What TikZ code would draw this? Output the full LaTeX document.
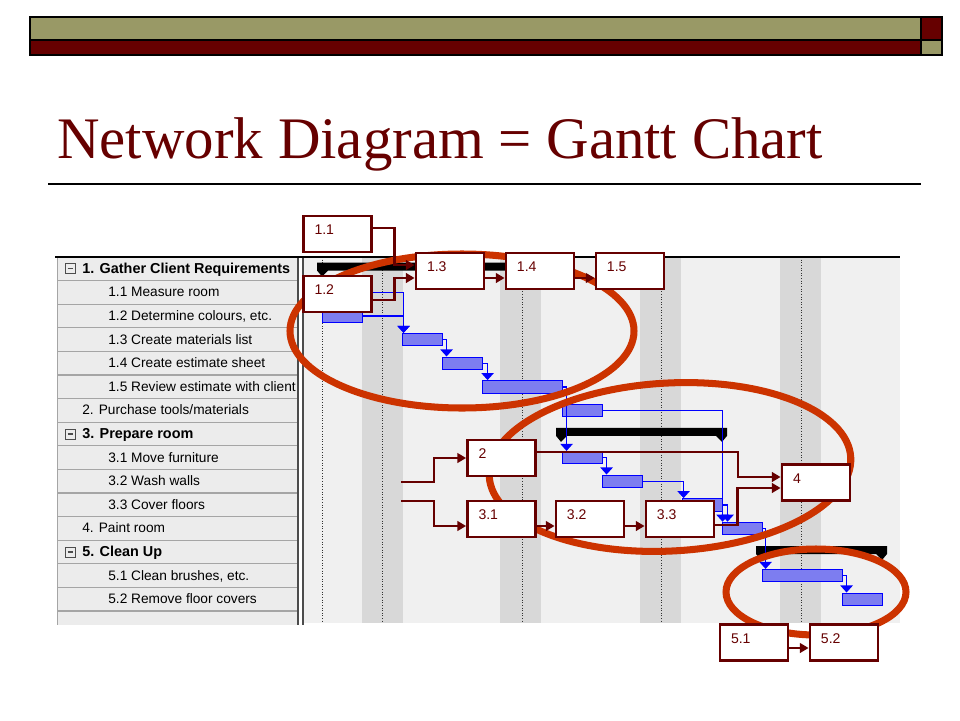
\documentclass[tikz,border=0pt]{standalone}
\usepackage{fontspec}
\setmainfont{Liberation Serif}
\newfontfamily\ganttfont{Liberation Sans}
\usetikzlibrary{positioning}
\usetikzlibrary{shapes, arrows, arrows.meta, calc}

\definecolor{slidered}{RGB}{102,0,0}
\definecolor{slideolive}{RGB}{153,153,102}
\definecolor{ringred}{RGB}{204,51,0}
\definecolor{barblue}{RGB}{125,125,240}
\definecolor{chartgray}{RGB}{240,240,240}
\definecolor{stripegray}{RGB}{216,216,216}
\definecolor{rowgray}{RGB}{236,236,236}
\definecolor{gridgray}{RGB}{165,165,165}

% summary bar: start, end, middle of the row
\newcommand{\sumbar}[3]{\fill ({#1},{#3-6}) -- ({#2},{#3-6}) -- ({#2},{#3+2}) -- ({#2-5},{#3+8}) -- ({#2-11},{#3+2}) -- ({#1+11},{#3+2}) -- ({#1+5},{#3+8}) -- ({#1},{#3+2}) -- cycle;}

\begin{document}
\begin{tikzpicture}[x=0.02cm, y=-0.02cm, node distance=1.8cm, auto]
    \tikzstyle{box} = [rectangle, draw=slidered, line width=1.6pt, fill=white, minimum width=1.36cm, minimum height=0.72cm, inner sep=0pt, text width=0.92cm, align=left, text depth=0.16cm, text=slidered, font=\ganttfont\fontsize{8}{9}\selectfont]
    \tikzstyle{line} = [draw=slidered, line width=1.6pt, -{Triangle[length=5pt, width=5.5pt]}]
    \tikzstyle{bar} = [rectangle, draw=blue, fill=barblue, line width=0.5pt, minimum width=0.8cm, minimum height=0.25cm, inner sep=0pt]
    \tikzstyle{link} = [draw=blue, line width=0.8pt, -{Triangle[length=4pt, width=7pt]}]
    \tikzstyle{ring} = [draw=ringred, line width=4pt]
    \tikzstyle{task} = [anchor=base west, inner sep=0pt, font=\ganttfont\fontsize{7.8}{9}\selectfont]
    \tikzstyle{tasksub} = [task, xshift=1.02cm]
    \tikzstyle{taskplain} = [task, xshift=0.5cm]
    \tikzstyle{tasktop} = [task, xshift=0.5cm, font=\ganttfont\bfseries\fontsize{8.2}{9}\selectfont]
    \useasboundingbox (0,0) rectangle (960,720);
    % slide header
    \fill [slideolive] (30,17) rectangle (921,40);
    \fill [slidered] (30,40) rectangle (921,55);
    \fill [slidered] (921,17) rectangle (942,40);
    \fill [slideolive] (921,40) rectangle (942,55);
    \draw [line width=0.8pt] (30,17) rectangle (942,55) (30,40) -- (942,40) (921,17) -- (921,55);
    \node [anchor=base west, inner sep=0pt, text=slidered, font=\fontsize{33.5}{40}\selectfont] (title) at (57,158) {Network Diagram = Gantt Chart};
    \draw [line width=0.8pt] (48,184) -- (921,184);
    % gantt table
    \fill [rowgray] (57,257) rectangle (298,625);
    \fill [chartgray] (303,257) rectangle (900,623);
    \foreach \x in {362,500,640,780}
        \fill [stripegray] (\x,257) rectangle ++(41,366);
    \foreach \x in {322,382,522,661,801}
        \draw [gray!40!black, densely dotted, line width=0.5pt] (\x,257) -- (\x,623);
    \foreach \i in {1,...,15}
        \draw [gridgray, line width=0.6pt] (57,{257+\i*23.6}) -- (298,{257+\i*23.6});
    \draw [gridgray] (57,257) -- (57,625);
    \draw [black!70, line width=0.8pt] (298,257) -- (298,625) (303,257) -- (303,625);
    \draw [line width=0.9pt] (55,257) -- (900,257);
    \foreach \i in {1,8,13} {
        \draw [black!70, line width=0.5pt] (65,{257+(\i-0.5)*23.6-5}) rectangle ++(10,10);
        \draw [black!70, line width=0.6pt] (67.5,{257+(\i-0.5)*23.6}) -- ++(5,0);
    }
    \foreach \i/\sty/\txt in {1/tasktop/{1. Gather Client Requirements}, 2/tasksub/{1.1 Measure room},
        3/tasksub/{1.2 Determine colours, etc.}, 4/tasksub/{1.3 Create materials list},
        5/tasksub/{1.4 Create estimate sheet}, 6/tasksub/{1.5 Review estimate with client},
        7/taskplain/{2. Purchase tools/materials}, 8/tasktop/{3. Prepare room},
        9/tasksub/{3.1 Move furniture}, 10/tasksub/{3.2 Wash walls}, 11/tasksub/{3.3 Cover floors},
        12/taskplain/{4. Paint room}, 13/tasktop/{5. Clean Up},
        14/tasksub/{5.1 Clean brushes, etc.}, 15/tasksub/{5.2 Remove floor covers}}
        \node [\sty] (task\i) at (57,{257+(\i-0.5)*23.6+4.5}) {\txt};
    % summary bars
    \sumbar{317}{565}{268.5}
    \sumbar{556}{727}{433.9}
    \sumbar{756}{887}{552}
    % task bars
    \node [bar] (b11) at (342,292.4) {};
    \node [bar] (b12) at (342,316) {};
    \node [bar] (b13) at (422,339.6) {};
    \node [bar] (b14) at (462,363.2) {};
    \node [bar, minimum width=1.6cm] (b15) at (522,386.8) {};
    \node [bar] (b2) at (582,410.4) {};
    \node [bar] (b31) at (582,457.6) {};
    \node [bar] (b32) at (622,481.2) {};
    \node [bar] (b33) at (702,504.8) {};
    \node [bar] (b4) at (742,528.4) {};
    \node [bar, minimum width=1.6cm] (b51) at (802,575.6) {};
    \node [bar] (b52) at (862,599.2) {};
    \path [link] (b11.east) -| ($(b13.north west)+(2,0)$);
    \path [link] (b12.east) -| ($(b13.north west)+(2,0)$);
    \path [link] (b13.east) -| ($(b14.north west)+(5,0)$);
    \path [link] (b14.east) -| ($(b15.north west)+(6,0)$);
    \path [link] (b15.east) -| ($(b31.north west)+(5,0)$);
    \path [link] (b2.east) -| ($(b4.north west)+(1,0)$);
    \path [link] (b31.east) -| ($(b32.north west)+(5,0)$);
    \path [link] (b32.east) -| ($(b33.north west)+(2,0)$);
    \path [link] (b33.east) -| ($(b4.north west)+(6,0)$);
    \path [link] (b4.east) -| ($(b51.north west)+(4,0)$);
    \path [link] (b51.east) -| ($(b52.north west)+(5,0)$);
    % rings
    \draw [ring] (462,331) ellipse [x radius=172, y radius=77];
    \draw [ring, rotate around={3:(670,467)}] (670,467) ellipse [x radius=181, y radius=84];
    \draw [ring] (816,592) ellipse [x radius=90, y radius=43];
    % network boxes
    \node [box] (n11) at (337.5,234) {1.1};
    \node [box, below of=n11, node distance=1.2cm] (n12) {1.2};
    \node [box] (n13) at (450,271) {1.3};
    \node [box, right of=n13] (n14) {1.4};
    \node [box, right of=n14] (n15) {1.5};
    \node [box] (n31) at (501.5,519) {3.1};
    \node [box, above of=n31, node distance=1.22cm] (n2) {2};
    \node [box, right of=n31, node distance=1.77cm] (n32) {3.2};
    \node [box, right of=n32] (n33) {3.3};
    \node [box] (n4) at (816,482.5) {4};
    \node [box] (n51) at (754,642.5) {5.1};
    \node [box, right of=n51] (n52) {5.2};
    \coordinate (in2) at (401,482);
    \coordinate (in31) at (401,501);
    \path [line] ($(n11.east)+(0,-6)$) -- ++(22,0) |- ($(n13.west)+(0,-6)$);
    \path [line] ($(n12.east)+(0,6)$) -- ++(22,0) |- ($(n13.west)+(0,7)$);
    \path [line] ($(n13.east)+(0,7)$) -- ($(n14.west)+(0,7)$);
    \path [line] ($(n14.east)+(0,7)$) -- ($(n15.west)+(0,7)$);
    \path [line] (in2) -- ++(33,0) |- (n2.west);
    \path [line] (in31) -- ++(33,0) |- ($(n31.west)+(0,7)$);
    \path [line] ($(n31.east)+(0,7)$) -- ($(n32.west)+(0,7)$);
    \path [line] ($(n32.east)+(0,7)$) -- ($(n33.west)+(0,7)$);
    \path [line] ($(n2.east)+(0,-6)$) -- ++(201,0) |- ($(n4.west)+(0,-5.5)$);
    \path [line] ($(n33.east)+(0,6)$) -- ++(22,0) |- ($(n4.west)+(0,5.5)$);
    \path [line] ($(n51.east)+(0,5.5)$) -- ($(n52.west)+(0,5.5)$);
\end{tikzpicture}
\end{document}
